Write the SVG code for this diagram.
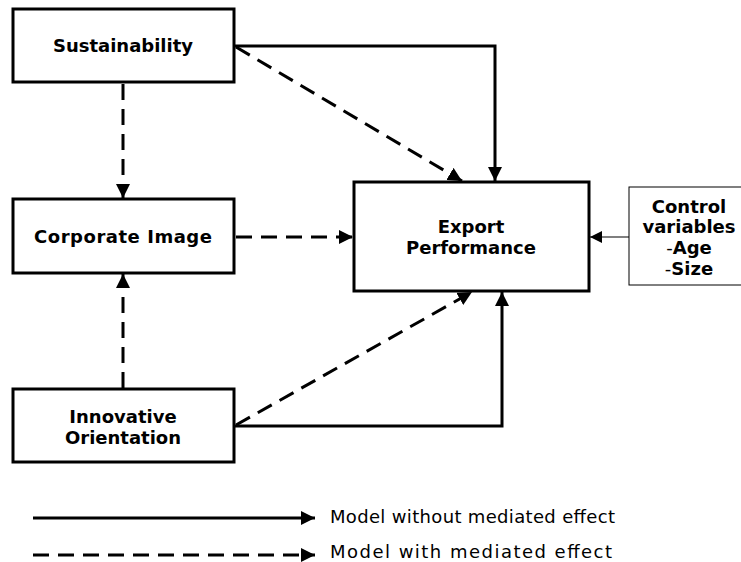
<svg xmlns="http://www.w3.org/2000/svg" width="741" height="562" viewBox="0 0 741 562">
<style>
.box{fill:#fff;stroke:#000;stroke-width:3}
.thin{fill:#fff;stroke:#000;stroke-width:1}
.lbl{font-family:"DejaVu Sans",Verdana,sans-serif;font-weight:bold;font-size:18px;text-anchor:middle;fill:#000}
.leg{font-family:"DejaVu Sans",Verdana,sans-serif;font-size:18px;fill:#000}
.solid{fill:none;stroke:#000;stroke-width:3}
.dash{fill:none;stroke:#000;stroke-width:3;stroke-dasharray:16 9}
</style>
<defs>
<marker id="ah" viewBox="0 0 10 10" refX="10" refY="5" markerWidth="14" markerHeight="14" markerUnits="userSpaceOnUse" orient="auto"><path d="M0,0 L10,5 L0,10 Z" fill="#000"/></marker>
<marker id="ahs" viewBox="0 0 10 10" refX="10" refY="5" markerWidth="12" markerHeight="12" markerUnits="userSpaceOnUse" orient="auto"><path d="M0,0 L10,5 L0,10 Z" fill="#000"/></marker>
</defs>
<g id="connectors">
<polyline class="solid" points="234,46 495,46 495,181" marker-end="url(#ah)"/>
<line class="dash" x1="236" y1="47" x2="462" y2="181" marker-end="url(#ah)"/>
<line class="dash" x1="123" y1="84" x2="123" y2="198" marker-end="url(#ah)"/>
<line class="dash" x1="123" y1="388" x2="123" y2="274" marker-end="url(#ah)"/>
<line class="dash" x1="236" y1="237" x2="353" y2="237" marker-end="url(#ah)"/>
<polyline class="solid" points="234,426 502,426 502,292" marker-end="url(#ah)"/>
<line class="dash" x1="236" y1="425" x2="472" y2="292" marker-end="url(#ah)"/>
<line x1="629" y1="237" x2="590" y2="237" stroke="#000" stroke-width="1.2" marker-end="url(#ahs)"/>
<line class="solid" x1="33" y1="518" x2="315" y2="518" stroke-width="2.5" marker-end="url(#ah)"/>
<line class="dash" x1="33" y1="555" x2="315" y2="555" marker-end="url(#ah)"/>
</g>
<g id="sustainability">
<rect class="box" x="13" y="9" width="221" height="73"/>
<text class="lbl" x="123" y="52">Sustainability</text>
</g>
<g id="corporate-image">
<rect class="box" x="13" y="199" width="221" height="74"/>
<text class="lbl" x="123" y="243" textLength="178" lengthAdjust="spacing">Corporate Image</text>
</g>
<g id="innovative-orientation">
<rect class="box" x="13" y="389" width="221" height="73"/>
<text class="lbl" x="123" y="423">Innovative</text>
<text class="lbl" x="123" y="444">Orientation</text>
</g>
<g id="export-performance">
<rect class="box" x="354" y="182" width="235" height="109"/>
<text class="lbl" x="471" y="233">Export</text>
<text class="lbl" x="471" y="254">Performance</text>
</g>
<g id="control-variables">
<rect class="thin" x="629" y="187" width="120" height="98"/>
<text class="lbl" x="689" y="213">Control</text>
<text class="lbl" x="689" y="233">variables</text>
<text class="lbl" x="689" y="254"><tspan font-weight="normal">-</tspan>Age</text>
<text class="lbl" x="689" y="275"><tspan font-weight="normal">-</tspan>Size</text>
</g>
<g id="legend">
<text class="leg" x="330" y="523" textLength="285" lengthAdjust="spacing">Model without mediated effect</text>
<text class="leg" x="330" y="558" textLength="282" lengthAdjust="spacing">Model with mediated effect</text>
</g>
</svg>
